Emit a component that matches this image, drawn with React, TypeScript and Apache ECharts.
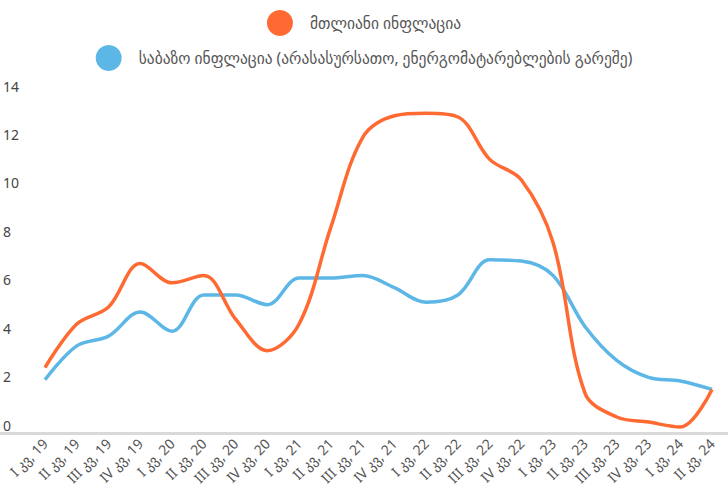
import React, { useEffect, useRef } from "react";
import * as echarts from "echarts";

const categories = [
  "I კვ, 19", "II კვ, 19", "III კვ, 19", "IV კვ, 19",
  "I კვ, 20", "II კვ, 20", "III კვ, 20", "IV კვ, 20",
  "I კვ, 21", "II კვ, 21", "III კვ, 21", "IV კვ, 21",
  "I კვ, 22", "II კვ, 22", "III კვ, 22", "IV კვ, 22",
  "I კვ, 23", "II კვ, 23", "III კვ, 23", "IV კვ, 23",
  "I კვ, 24", "II კვ, 24",
];

const headlineName = "მთლიანი ინფლაცია";
const coreName = "საბაზო ინფლაცია (არასასურსათო, ენერგომატარებლების გარეშე)";

const headline = [2.7, 4.5, 5.2, 7.0, 6.2, 6.5, 4.7, 3.4, 4.5, 8.5, 12.2, 13.1, 13.2, 13.05, 11.3, 10.45, 7.85, 1.65, 0.66, 0.45, 0.25, 1.8];
const core = [2.2, 3.6, 4.0, 5.0, 4.2, 5.7, 5.7, 5.3, 6.4, 6.4, 6.5, 6.0, 5.4, 5.7, 7.15, 7.1, 6.5, 4.4, 3.0, 2.3, 2.15, 1.8];

const FONT = "'Noto Sans', 'DejaVu Sans', sans-serif";

export default function App() {
  const ref = useRef<HTMLDivElement>(null);
  useEffect(() => {
    if (!ref.current) return;
    const chart = echarts.init(ref.current, null, { renderer: "svg" });
    const legendText = { color: "#555", fontSize: 15.5, fontFamily: FONT, padding: [0, 0, 0, 12] };
    chart.setOption({
      animation: false,
      textStyle: { fontFamily: FONT },
      legend: [
        {
          data: [headlineName],
          top: 5,
          left: "center",
          icon: "circle",
          itemWidth: 26,
          itemHeight: 26,
          textStyle: legendText,
        },
        {
          data: [coreName],
          top: 40,
          left: "center",
          icon: "circle",
          itemWidth: 26,
          itemHeight: 26,
          textStyle: legendText,
        },
      ],
      grid: { left: 44, right: 16, top: 94, bottom: 62, containLabel: false },
      xAxis: {
        type: "category",
        data: categories,
        boundaryGap: false,
        axisLine: { show: false },
        axisTick: { show: false },
        axisLabel: { rotate: 45, color: "#555", fontSize: 14, margin: 8, interval: 0, fontFamily: FONT },
        splitLine: { show: false },
      },
      yAxis: {
        type: "value",
        min: 0,
        max: 14,
        interval: 2,
        axisLine: { show: false },
        axisTick: { show: false },
        splitLine: { show: false },
        axisLabel: {
          color: "#444",
          fontSize: 14,
          align: "left",
          verticalAlign: "bottom",
          margin: 42,
          padding: [0, 0, 1, 0],
          fontFamily: FONT,
        },
      },
      graphic: [
        {
          type: "rect",
          left: 0,
          top: 432,
          shape: { width: 728, height: 3 },
          style: { fill: "#d9d9d9" },
          z: 0,
        },
      ],
      series: [
        {
          name: headlineName,
          type: "line",
          data: headline,
          smooth: 0.35,
          showSymbol: false,
          symbol: "circle",
          itemStyle: { color: "#ff6a33" },
          lineStyle: { color: "#ff6a33", width: 3.5 },
          z: 3,
        },
        {
          name: coreName,
          type: "line",
          data: core,
          smooth: 0.35,
          showSymbol: false,
          symbol: "circle",
          itemStyle: { color: "#5db7e6" },
          lineStyle: { color: "#5db7e6", width: 3.5 },
          z: 2,
        },
      ],
    });
    return () => chart.dispose();
  }, []);
  return <div ref={ref} style={{ width: 728, height: 495, position: "absolute", left: 0, top: 0 }} />;
}
